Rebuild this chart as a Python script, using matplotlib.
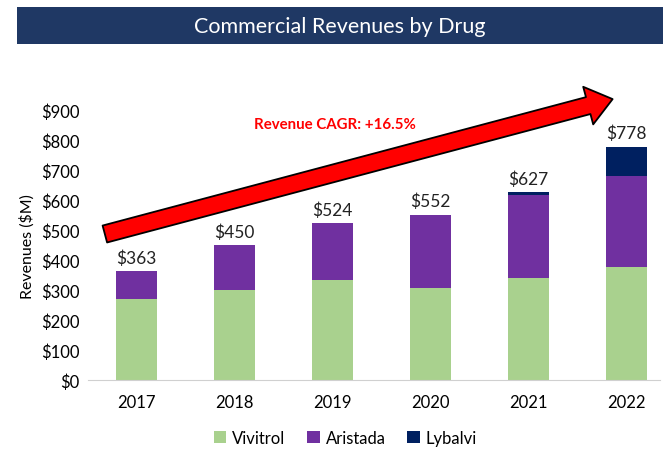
import matplotlib.pyplot as plt
from matplotlib.patches import Rectangle

plt.rcParams['font.family'] = ['Lato', 'DejaVu Sans']

years = ["2017", "2018", "2019", "2020", "2021", "2022"]
vivitrol = [270, 300, 333, 307, 340, 376]
aristada = [93, 150, 191, 245, 278, 303]
lybalvi = [0, 0, 0, 0, 9, 99]
totals = [363, 450, 524, 552, 627, 778]
yticks = [0, 100, 200, 300, 400, 500, 600, 700, 800, 900]

green, purple, navy = "#A9D18E", "#7030A0", "#002060"

fig = plt.figure(figsize=(6.63, 4.52), dpi=100)
ax = fig.add_axes([0.133, 0.157, 0.862, 0.597])

x = range(len(years))
w = 0.42
ax.bar(x, vivitrol, w, color=green, label="Vivitrol")
ax.bar(x, aristada, w, bottom=vivitrol, color=purple, label="Aristada")
bot2 = [a + b for a, b in zip(vivitrol, aristada)]
ax.bar(x, lybalvi, w, bottom=bot2, color=navy, label="Lybalvi")

for i, t in enumerate(totals):
    ax.text(i, t + 18, f"${t}", ha="center", va="bottom", fontsize=12.5, color="#222222")

ax.set_xlim(-0.49, 5.34)
ax.set_ylim(0, 900)
ax.set_yticks(yticks)
ax.set_yticklabels([f"${v}" for v in yticks], fontsize=12)
ax.set_xticks(list(x))
ax.set_xticklabels(years, fontsize=12)
ax.tick_params(length=0, pad=6)
ax.tick_params(axis="x", pad=10)
ax.set_ylabel("Revenues ($M)", fontsize=11.5, labelpad=5)
for s in ["top", "right", "left"]:
    ax.spines[s].set_visible(False)
ax.spines["bottom"].set_color("#D0D0D0")

# growth arrow
ax.annotate("", xy=(4.86, 937), xytext=(-0.32, 487),
            arrowprops=dict(arrowstyle="simple,head_length=1.3,head_width=2.0,tail_width=0.9",
                            mutation_scale=14, fc="#FF0000", ec="black", lw=1.3,
                            shrinkA=0, shrinkB=0),
            annotation_clip=False)
ax.text(2.03, 853, "Revenue CAGR: +16.5%", color="#FF0000", fontsize=10.8,
        fontweight="bold", ha="center", va="center")

ax.legend(loc="lower center", bbox_to_anchor=(0.45, -0.3), ncol=3, frameon=False,
          fontsize=12, handlelength=0.75, handleheight=0.75, handletextpad=0.35,
          columnspacing=1.3)

# title bar
fig.patches.append(Rectangle((0.026, 0.900), 0.974, 0.082, transform=fig.transFigure,
                             facecolor="#1F3864", edgecolor="none"))
fig.text(0.513, 0.941, "Commercial Revenues by Drug", color="white", fontsize=15.5,
         ha="center", va="center")

fig.savefig("out.png", dpi=100)
